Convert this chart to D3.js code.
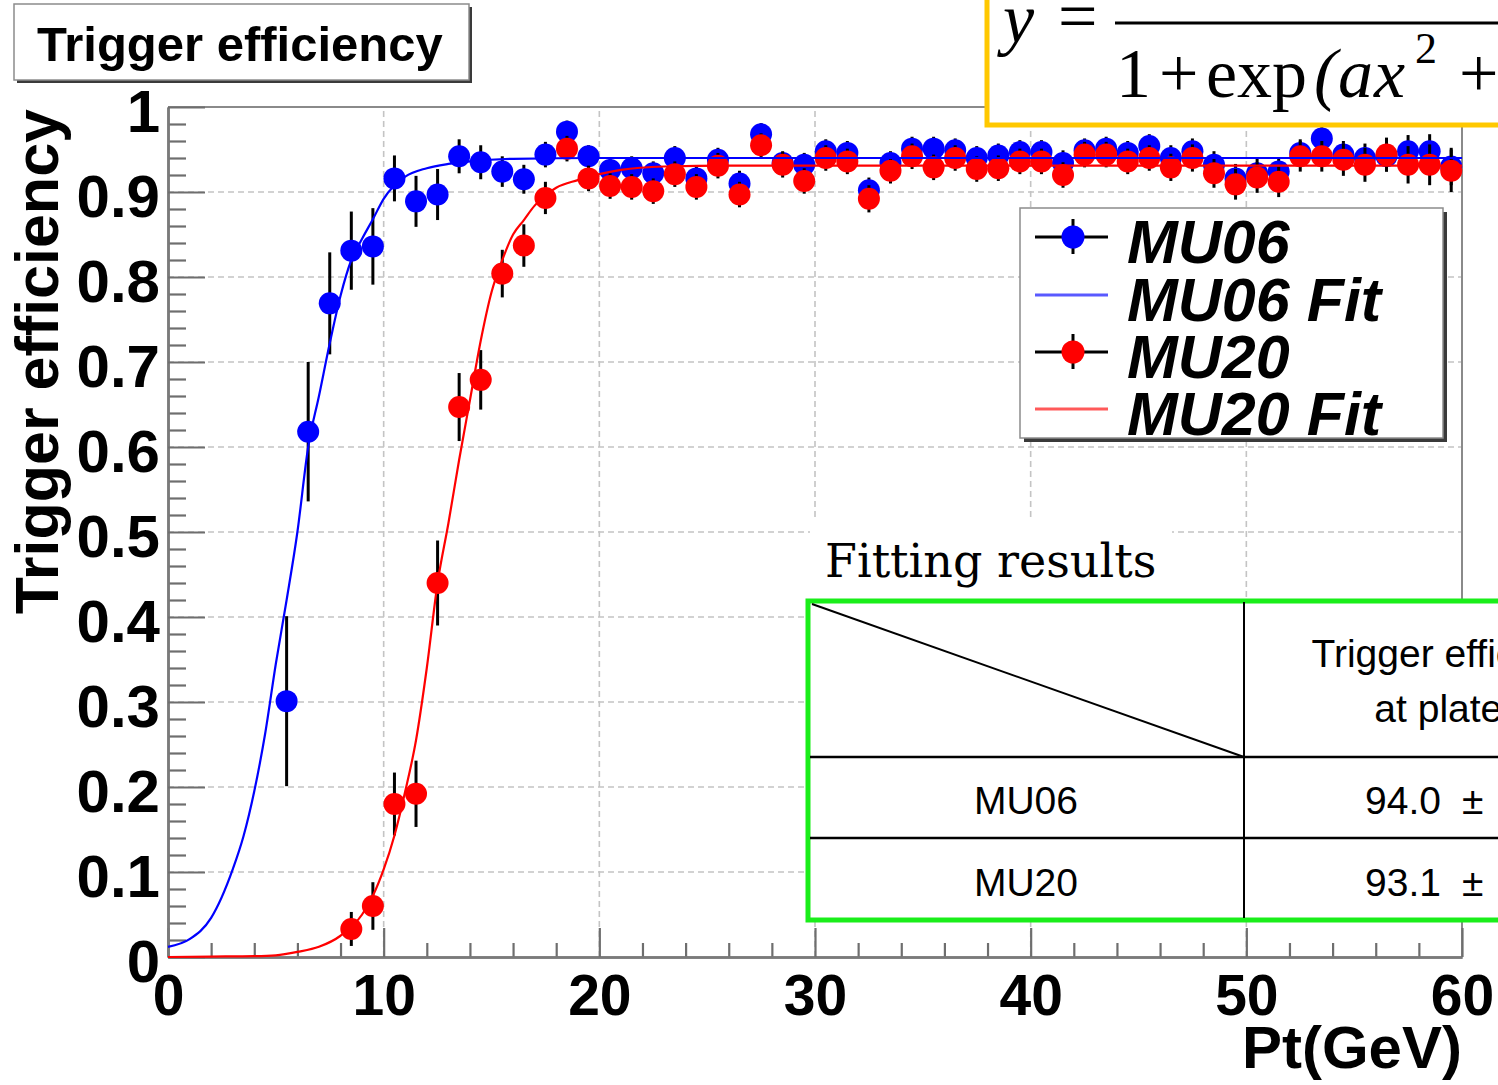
<!DOCTYPE html>
<html>
<head>
<meta charset="utf-8">
<script src="https://cdn.jsdelivr.net/npm/d3@7"></script>
<style>
  html, body { margin: 0; padding: 0; background: #fff; overflow: hidden; }
  svg { display: block; }
</style>
</head>
<body>
<svg id="chart" width="1498" height="1085"></svg>
<script>
// ---- Measured efficiency per 1 GeV Pt bin (bin centres) ----
const ptMU06 = [5.5, 6.5, 7.5, 8.5, 9.5, 10.5, 11.5, 12.5, 13.5, 14.5, 15.5, 16.5, 17.5, 18.5, 19.5,
  20.5, 21.5, 22.5, 23.5, 24.5, 25.5, 26.5, 27.5, 28.5, 29.5, 30.5, 31.5, 32.5, 33.5, 34.5, 35.5,
  36.5, 37.5, 38.5, 39.5, 40.5, 41.5, 42.5, 43.5, 44.5, 45.5, 46.5, 47.5, 48.5, 49.5, 50.5, 51.5,
  52.5, 53.5, 54.5, 55.5, 56.5, 57.5, 58.5, 59.5];
const effMU06 = [0.301, 0.618, 0.769, 0.831, 0.836, 0.916, 0.889, 0.897, 0.942, 0.935, 0.924, 0.915,
  0.944, 0.971, 0.942, 0.926, 0.928, 0.922, 0.940, 0.916, 0.938, 0.910, 0.968, 0.934, 0.932, 0.948,
  0.946, 0.902, 0.934, 0.951, 0.951, 0.949, 0.940, 0.943, 0.947, 0.947, 0.934, 0.949, 0.951, 0.946,
  0.954, 0.940, 0.948, 0.932, 0.916, 0.922, 0.924, 0.946, 0.963, 0.944, 0.940, 0.942, 0.948, 0.948, 0.930];
const errMU06 = [0.100, 0.082, 0.060, 0.046, 0.045, 0.027, 0.030, 0.030, 0.020, 0.020, 0.018, 0.017,
  0.015, 0.013, 0.013, 0.014, 0.014, 0.014, 0.014, 0.014, 0.014, 0.015, 0.013, 0.014, 0.014, 0.014,
  0.014, 0.015, 0.014, 0.014, 0.014, 0.014, 0.014, 0.014, 0.014, 0.014, 0.015, 0.014, 0.014, 0.014,
  0.014, 0.015, 0.015, 0.016, 0.017, 0.017, 0.017, 0.016, 0.015, 0.016, 0.017, 0.018, 0.019, 0.020, 0.022];

const ptMU20 = [8.5, 9.5, 10.5, 11.5, 12.5, 13.5, 14.5, 15.5, 16.5, 17.5, 18.5, 19.5,
  20.5, 21.5, 22.5, 23.5, 24.5, 25.5, 26.5, 27.5, 28.5, 29.5, 30.5, 31.5, 32.5, 33.5, 34.5, 35.5,
  36.5, 37.5, 38.5, 39.5, 40.5, 41.5, 42.5, 43.5, 44.5, 45.5, 46.5, 47.5, 48.5, 49.5, 50.5, 51.5,
  52.5, 53.5, 54.5, 55.5, 56.5, 57.5, 58.5, 59.5];
const effMU20 = [0.033, 0.060, 0.180, 0.192, 0.440, 0.647, 0.679, 0.804, 0.837, 0.893, 0.951, 0.916,
  0.907, 0.906, 0.901, 0.921, 0.906, 0.931, 0.897, 0.955, 0.932, 0.913, 0.940, 0.936, 0.892, 0.925,
  0.942, 0.929, 0.940, 0.927, 0.928, 0.936, 0.936, 0.920, 0.944, 0.944, 0.936, 0.940, 0.929, 0.940,
  0.922, 0.909, 0.917, 0.912, 0.942, 0.942, 0.938, 0.932, 0.944, 0.932, 0.932, 0.925];
const errMU20 = [0.020, 0.028, 0.037, 0.039, 0.050, 0.040, 0.035, 0.028, 0.025, 0.019, 0.015, 0.015,
  0.015, 0.015, 0.015, 0.015, 0.015, 0.015, 0.015, 0.014, 0.015, 0.015, 0.015, 0.015, 0.016, 0.015,
  0.015, 0.015, 0.015, 0.015, 0.015, 0.015, 0.015, 0.015, 0.015, 0.015, 0.015, 0.015, 0.016, 0.016,
  0.017, 0.018, 0.018, 0.018, 0.018, 0.018, 0.019, 0.020, 0.020, 0.022, 0.024, 0.025];

// ---- Fitted turn-on curves (sampled along Pt) ----
const fitPtMU06 = [0, 1, 2, 3, 3.5, 4, 4.5, 5, 5.5, 6, 6.5, 7, 7.5, 8, 8.5, 9, 9.5, 10, 11, 12, 13, 14, 16, 20, 30, 40, 50, 60];
const fitMU06 = [0.012, 0.021, 0.046, 0.103, 0.142, 0.195, 0.262, 0.345, 0.42, 0.50, 0.60, 0.66, 0.722, 0.778, 0.82,
  0.845, 0.868, 0.892, 0.918, 0.928, 0.933, 0.936, 0.939, 0.940, 0.940, 0.940, 0.940, 0.940];
const fitPtMU20 = [0, 2, 4, 5, 6, 7, 8, 9, 9.5, 10, 10.5, 11, 11.5, 12, 12.5, 13, 13.5, 14, 14.5, 15, 15.5, 16,
  16.5, 17, 17.5, 18, 19, 20, 21, 23, 26, 30, 40, 50, 60];
const fitMU20 = [0.0, 0.0005, 0.001, 0.002, 0.006, 0.012, 0.025, 0.05, 0.072, 0.103, 0.143, 0.195, 0.255, 0.34,
  0.44, 0.51, 0.585, 0.655, 0.725, 0.782, 0.82, 0.85, 0.867, 0.884, 0.896, 0.905, 0.914, 0.921, 0.926, 0.93,
  0.931, 0.931, 0.931, 0.931, 0.931];

// ---- Axis ticks ----
const xMajor = [0, 10, 20, 30, 40, 50, 60];
const xMinor = [2, 4, 6, 8, 12, 14, 16, 18, 22, 24, 26, 28, 32, 34, 36, 38, 42, 44, 46, 48, 52, 54, 56, 58];
const yMajor = [0, 0.1, 0.2, 0.3, 0.4, 0.5, 0.6, 0.7, 0.8, 0.9, 1];
const yMajorLabels = ["0", "0.1", "0.2", "0.3", "0.4", "0.5", "0.6", "0.7", "0.8", "0.9", "1"];
const yMinor = d3.range(0, 50).map(i => i * 0.02).filter((v, i) => i % 5 !== 0);

// ---- Legend and table content ----
const legendNames = ["MU06", "MU06 Fit", "MU20", "MU20 Fit"];
const tableRows = ["MU06", "MU20"];
const plateau = ["94.0", "93.1"];

const BLUE = "#0000ff", RED = "#ff0000";
const boldSans = "'Liberation Sans', Arial, Helvetica, sans-serif";

const svg = d3.select("#chart");
svg.append("rect").attr("width", 1498).attr("height", 1085).attr("fill", "#fff");

const x = d3.scaleLinear().domain([0, 60]).range([168, 1462]);
const y = d3.scaleLinear().domain([0, 1]).range([957, 107]);

// grid
const grid = svg.append("g").attr("stroke", "#c4c4c4").attr("stroke-width", 1.6).attr("stroke-dasharray", "6,4");
grid.selectAll("line.gx").data(xMajor.slice(1, -1)).join("line")
  .attr("x1", d => x(d)).attr("x2", d => x(d)).attr("y1", y(0)).attr("y2", y(1));
grid.selectAll("line.gy").data(yMajor.slice(1, -1)).join("line")
  .attr("x1", x(0)).attr("x2", x(60)).attr("y1", d => y(d)).attr("y2", d => y(d));

// frame (top and right)
svg.append("path")
  .attr("d", `M${x(0)},${y(1)}H${x(60)}V${y(0)}`)
  .attr("fill", "none").attr("stroke", "#8a8a8a").attr("stroke-width", 2);

// axes with inward ticks
function styleAxis(g) {
  g.selectAll(".domain").attr("stroke", "#7a7a7a").attr("stroke-width", 2.5);
  g.selectAll(".tick line").attr("stroke", "#6e6e6e").attr("stroke-width", 2.2);
}
svg.append("g").attr("transform", `translate(0,${y(0)})`)
  .call(d3.axisBottom(x).tickValues(xMinor).tickSize(-14).tickSizeOuter(0).tickFormat(""))
  .call(styleAxis);
const xAxis = svg.append("g").attr("transform", `translate(0,${y(0)})`)
  .call(d3.axisBottom(x).tickValues(xMajor).tickSize(-29).tickSizeOuter(0).tickPadding(0).tickFormat(d3.format("d")))
  .call(styleAxis);
xAxis.selectAll(".tick text")
  .attr("y", 58).attr("dy", 0)
  .attr("font-family", boldSans).attr("font-weight", "bold").attr("font-size", 57).attr("fill", "#000");

svg.append("g").attr("transform", `translate(${x(0)},0)`)
  .call(d3.axisLeft(y).tickValues(yMinor).tickSize(-18).tickSizeOuter(0).tickFormat(""))
  .call(styleAxis);
const yAxis = svg.append("g").attr("transform", `translate(${x(0)},0)`)
  .call(d3.axisLeft(y).tickValues(yMajor).tickSize(-37).tickSizeOuter(0).tickPadding(8)
    .tickFormat((d, i) => yMajorLabels[i]))
  .call(styleAxis);
yAxis.selectAll(".tick text")
  .attr("dy", "0.36em").attr("y", 3)
  .attr("font-family", boldSans).attr("font-weight", "bold").attr("font-size", 60).attr("fill", "#000");

// axis titles
svg.append("text")
  .attr("transform", `translate(58,109) rotate(-90)`)
  .attr("text-anchor", "end")
  .attr("font-family", boldSans).attr("font-weight", "bold").attr("font-size", 61)
  .text("Trigger efficiency");
svg.append("text")
  .attr("x", x(60)).attr("y", 1068).attr("text-anchor", "end")
  .attr("font-family", boldSans).attr("font-weight", "bold").attr("font-size", 60)
  .text("Pt(GeV)");

// data series: error bars then markers
function drawSeries(pts, vals, errs, color) {
  const g = svg.append("g");
  const rows = pts.map((p, i) => ({ p, v: vals[i], e: errs[i] }));
  g.selectAll("line").data(rows).join("line")
    .attr("x1", d => x(d.p)).attr("x2", d => x(d.p))
    .attr("y1", d => y(d.v + d.e)).attr("y2", d => y(d.v - d.e))
    .attr("stroke", "#000").attr("stroke-width", 3);
  g.selectAll("circle").data(rows).join("circle")
    .attr("cx", d => x(d.p)).attr("cy", d => y(d.v)).attr("r", 11)
    .attr("fill", color);
}
drawSeries(ptMU06, effMU06, errMU06, BLUE);
drawSeries(ptMU20, effMU20, errMU20, RED);

// fit curves
const line = d3.line().x(d => x(d[0])).y(d => y(d[1])).curve(d3.curveMonotoneX);
svg.append("path").datum(fitPtMU06.map((p, i) => [p, fitMU06[i]]))
  .attr("d", line).attr("fill", "none").attr("stroke", BLUE).attr("stroke-width", 2.2);
svg.append("path").datum(fitPtMU20.map((p, i) => [p, fitMU20[i]]))
  .attr("d", line).attr("fill", "none").attr("stroke", RED).attr("stroke-width", 2.2);

// boxed pane with shadow
function pane(x0, y0, w, h, off) {
  svg.append("rect").attr("x", x0 + off).attr("y", y0 + off).attr("width", w).attr("height", h).attr("fill", "#3a3a3a");
  svg.append("rect").attr("x", x0).attr("y", y0).attr("width", w).attr("height", h)
    .attr("fill", "#fff").attr("stroke", "#8c8c8c").attr("stroke-width", 1.5);
}

// legend
pane(1020, 208, 423, 230, 4);
const leg = svg.append("g");
const legY = [237, 295, 352, 409];
const legStyle = [
  { kind: "marker", color: BLUE }, { kind: "line", color: BLUE },
  { kind: "marker", color: RED }, { kind: "line", color: RED }
];
legendNames.forEach((name, i) => {
  const ly = legY[i], s = legStyle[i];
  if (s.kind === "marker") {
    leg.append("line").attr("x1", 1035).attr("x2", 1108).attr("y1", ly).attr("y2", ly).attr("stroke", "#000").attr("stroke-width", 3);
    leg.append("line").attr("x1", 1073).attr("x2", 1073).attr("y1", ly - 18).attr("y2", ly + 17).attr("stroke", "#000").attr("stroke-width", 3);
    leg.append("circle").attr("cx", 1073).attr("cy", ly).attr("r", 11.5).attr("fill", s.color);
  } else {
    leg.append("line").attr("x1", 1035).attr("x2", 1108).attr("y1", ly).attr("y2", ly)
      .attr("stroke", s.color).attr("stroke-opacity", 0.65).attr("stroke-width", 3);
  }
  leg.append("text").attr("x", 1127).attr("y", ly + 26)
    .attr("font-family", boldSans).attr("font-weight", "bold").attr("font-style", "italic").attr("font-size", 61)
    .text(name);
});

// fitting results table
svg.append("rect").attr("x", 810).attr("y", 518).attr("width", 362).attr("height", 82).attr("fill", "#fff");
svg.append("text").attr("x", 825).attr("y", 577)
  .attr("font-family", "'DejaVu Serif', serif").attr("font-size", 46).text("Fitting results");
const tbl = svg.append("g");
tbl.append("rect").attr("x", 808).attr("y", 601).attr("width", 720).attr("height", 319)
  .attr("fill", "#fff").attr("stroke", "#1aee1a").attr("stroke-width", 5);
tbl.append("line").attr("x1", 1244).attr("x2", 1244).attr("y1", 602).attr("y2", 918).attr("stroke", "#000").attr("stroke-width", 2);
[757, 838].forEach(ry => tbl.append("line").attr("x1", 810).attr("x2", 1500).attr("y1", ry).attr("y2", ry).attr("stroke", "#000").attr("stroke-width", 2.5));
tbl.append("line").attr("x1", 812).attr("y1", 604).attr("x2", 1244).attr("y2", 757).attr("stroke", "#000").attr("stroke-width", 2);
const cellFont = "'Liberation Sans', Arial, sans-serif";
tbl.append("text").attr("x", 1459).attr("y", 667).attr("text-anchor", "middle")
  .attr("font-family", cellFont).attr("font-size", 39).text("Trigger efficiency");
tbl.append("text").attr("x", 1460).attr("y", 722).attr("text-anchor", "middle")
  .attr("font-family", cellFont).attr("font-size", 39).text("at plateau");
tableRows.forEach((r, i) => {
  const by = 814 + i * 82;
  tbl.append("text").attr("x", 1026).attr("y", by).attr("text-anchor", "middle")
    .attr("font-family", cellFont).attr("font-size", 39).text(r);
  tbl.append("text").attr("x", 1365).attr("y", by)
    .attr("font-family", cellFont).attr("font-size", 39).text(plateau[i]);
  tbl.append("text").attr("x", 1462).attr("y", by)
    .attr("font-family", cellFont).attr("font-size", 39).text("±");
});

// fit function box
const fx = svg.append("g");
fx.append("rect").attr("x", 987).attr("y", -20).attr("width", 560).attr("height", 145)
  .attr("fill", "#fff").attr("stroke", "#ffc800").attr("stroke-width", 5);
const serif = "'Liberation Serif', 'Times New Roman', serif";
const fsz = 70;
fx.append("text").attr("x", 1003).attr("y", 42).attr("font-family", serif).attr("font-style", "italic").attr("font-size", fsz).text("y");
fx.append("text").attr("x", 1058).attr("y", 40).attr("font-family", serif).attr("font-size", fsz).text("=");
fx.append("line").attr("x1", 1115).attr("x2", 1510).attr("y1", 23).attr("y2", 23).attr("stroke", "#000").attr("stroke-width", 3);
fx.append("text").attr("x", 1116).attr("y", 97).attr("font-family", serif).attr("font-size", fsz).text("1");
fx.append("text").attr("x", 1159).attr("y", 97).attr("font-family", serif).attr("font-size", fsz).text("+");
fx.append("text").attr("x", 1206).attr("y", 97).attr("font-family", serif).attr("font-size", fsz).text("exp");
fx.append("text").attr("x", 1314).attr("y", 97).attr("font-family", serif).attr("font-style", "italic").attr("font-size", fsz).text("(");
fx.append("text").attr("x", 1338).attr("y", 97).attr("font-family", serif).attr("font-style", "italic").attr("font-size", fsz).text("a");
fx.append("text").attr("x", 1374).attr("y", 97).attr("font-family", serif).attr("font-style", "italic").attr("font-size", fsz).text("x");
fx.append("text").attr("x", 1415).attr("y", 63).attr("font-family", serif).attr("font-size", 44).text("2");
fx.append("text").attr("x", 1459).attr("y", 97).attr("font-family", serif).attr("font-size", fsz).text("+");

// title pane
pane(14, 4, 455, 76, 3);
svg.append("text").attr("x", 37).attr("y", 61)
  .attr("font-family", boldSans).attr("font-weight", "bold").attr("font-size", 49)
  .text("Trigger efficiency");
</script>
</body>
</html>
